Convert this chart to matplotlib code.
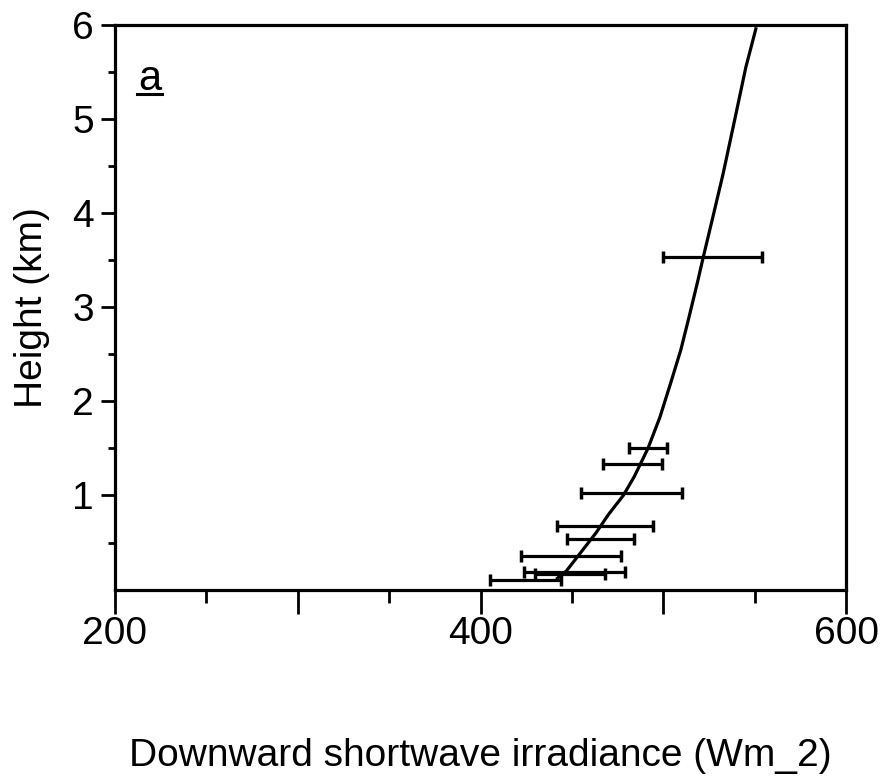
import matplotlib
matplotlib.use("Agg")
import matplotlib.pyplot as plt
import numpy as np

plt.rcParams['font.family'] = ['Liberation Sans', 'DejaVu Sans']

# model profile of downward shortwave irradiance
curve_height = [0.12, 0.2, 0.4, 0.6, 0.8, 1.0, 1.2, 1.5, 1.83, 2.2, 2.55, 2.9,
                3.26, 3.53, 3.96, 4.42, 5.0, 5.55, 5.96]
curve_flux = [442, 447, 455, 463, 470, 478, 484, 491.5, 498, 504, 509.5, 514,
              518.5, 521.7, 527, 532.6, 539, 545, 550.5]

# observed ranges (left / right ends of each bar)
bar_height = [3.53, 1.50, 1.34, 1.03, 0.68, 0.54, 0.36, 0.19, 0.17, 0.10]
bar_low = [500, 481, 467, 455, 442, 447, 422, 424, 430, 405]
bar_high = [554, 502, 499, 510, 494, 484, 477, 479, 468, 444]

x_ticks = [200, 300, 400, 500, 600]
x_labels = ['200', '', '400', '', '600']
x_minor = [250, 350, 450, 550]
y_ticks = [1, 2, 3, 4, 5, 6]
y_minor = [0.5, 1.5, 2.5, 3.5, 4.5, 5.5]

fig = plt.figure(figsize=(8.9, 7.84), dpi=100)
ax = fig.add_axes([0.129, 0.248, 0.822, 0.72])

ax.plot(curve_flux, curve_height, color='black', lw=2.3)

lo = np.array(bar_low)
hi = np.array(bar_high)
ax.errorbar((lo + hi) / 2, bar_height, xerr=(hi - lo) / 2, fmt='none',
            ecolor='black', elinewidth=2.3, capsize=4, capthick=2.5)

# panel letter, underlined
ax.text(219, 5.43, 'a', fontsize=30, ha='center', va='center')
ax.plot([212, 226], [5.27, 5.27], color='black', lw=2.2)

ax.set_xlim(200, 600)
ax.set_ylim(0, 6)
ax.set_xticks(x_ticks, labels=x_labels)
ax.set_xticks(x_minor, minor=True)
ax.set_yticks(y_ticks)
ax.set_yticks(y_minor, minor=True)

for s in ax.spines.values():
    s.set_linewidth(2.3)

ax.tick_params(axis='x', which='major', direction='out', length=17, width=2,
               labelsize=28, pad=2)
ax.tick_params(axis='x', which='minor', direction='out', length=9, width=2)
ax.tick_params(axis='y', which='major', direction='out', length=10, width=2,
               labelsize=28, pad=5)
ax.tick_params(axis='y', which='minor', direction='out', length=5, width=2)

ax.set_xlabel('Downward shortwave irradiance (Wm_2)', fontsize=28, labelpad=62)
ax.set_ylabel('Height (km)', fontsize=28, labelpad=16)

fig.savefig('out.png', dpi=100)
